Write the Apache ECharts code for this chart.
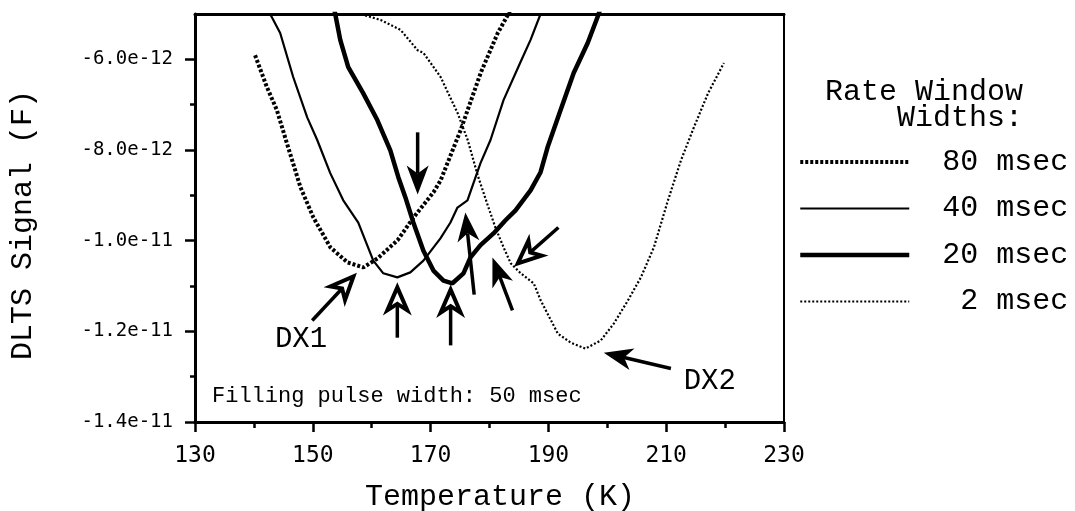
<!DOCTYPE html>
<html>
<head>
<meta charset="utf-8">
<script src="https://cdn.jsdelivr.net/npm/echarts@6/dist/echarts.min.js"></script>
<style>
  html, body { margin: 0; padding: 0; background: #fff; }
  #chart { width: 1075px; height: 511px; }
</style>
</head>
<body>
<div id="chart"></div>
<script>
// DLTS spectra for four rate windows; signal values in units of 1e-12 F.
const t80 = [140.2, 142.2, 143.9, 145.6, 147.9, 150.1, 153.0, 155.9, 158.6, 161.0, 164.4, 167.1, 170.5, 171.7, 175.1, 178.5, 181.4, 183.2, 183.6];
const s80 = [-5.91, -6.61, -7.12, -7.85, -8.82, -9.49, -10.15, -10.48, -10.59, -10.39, -9.99, -9.49, -8.93, -8.67, -7.56, -6.30, -5.42, -5.00, -4.90];

const t40 = [142.4, 142.76, 144.46, 146.67, 149.05, 150.75, 152.96, 155.17, 157.72, 160.27, 161.97, 164.35, 166.56, 168.78, 171.67, 173.37, 174.56, 176.26, 177.28, 178.47, 180.17, 182.38, 185.27, 186.97, 188.67, 189.2];
const s40 = [-4.80, -5.00, -5.42, -6.39, -7.28, -7.78, -8.51, -9.11, -9.60, -10.44, -10.72, -10.81, -10.70, -10.44, -9.95, -9.60, -9.27, -9.11, -8.73, -8.29, -7.78, -6.90, -6.06, -5.57, -5.00, -4.80];

const t20 = [153.5, 153.81, 154.66, 156.02, 158.57, 160.95, 163.16, 164.52, 165.71, 167.07, 168.78, 170.48, 172.18, 173.71, 175.58, 176.77, 178.47, 180.68, 182.72, 184.42, 186.97, 188.67, 189.86, 192.07, 194.29, 196.67, 198.54, 199.0];
const s20 = [-4.80, -5.00, -5.57, -6.17, -6.75, -7.34, -8.01, -8.60, -9.04, -9.60, -10.22, -10.66, -10.88, -10.94, -10.72, -10.37, -10.10, -9.84, -9.55, -9.33, -8.89, -8.49, -7.94, -7.12, -6.30, -5.64, -5.00, -4.80];

const t2 = [156.4, 158.6, 161.5, 164.9, 167.8, 168.8, 171.7, 174.6, 176.3, 178.0, 179.7, 181.0, 182.4, 183.6, 185.3, 187.5, 188.7, 191.6, 193.8, 196.3, 198.9, 201.1, 203.5, 205.7, 207.9, 210.3, 212.5, 214.7, 217.1, 219.8];
const s2 = [-4.89, -5.02, -5.13, -5.35, -5.80, -5.86, -6.39, -7.19, -7.78, -8.56, -9.22, -9.71, -10.15, -10.50, -10.72, -10.94, -11.32, -12.05, -12.25, -12.38, -12.20, -11.83, -11.32, -10.81, -10.15, -9.11, -8.23, -7.50, -6.75, -6.08];

const seriesNames = ['80 msec', '40 msec', '20 msec', '2 msec'];

// Axis ticks
const xTicks = [130, 150, 170, 190, 210, 230];
const yTicks = [-14, -12, -10, -8, -6];
const yMinorTicks = [-13, -11, -9, -7];

// Annotation arrows: tail (T, signal) -> tip (T, signal); 1 = open head
const arrowFromT = [149.9, 164.35, 173.4, 177.4, 183.9, 191.7, 167.8, 210.8];
const arrowFromS = [-11.76, -12.14, -12.31, -11.19, -11.54, -9.71, -7.61, -12.82];
const arrowToT   = [156.9, 164.35, 173.4, 175.9, 180.5, 184.8, 167.8, 199.4];
const arrowToS   = [-10.79, -11.03, -11.08, -9.38, -10.37, -10.50, -8.98, -12.47];
const arrowOpen  = [1, 1, 1, 0, 0, 1, 0, 0];

// Peak labels
const peakNames = ['DX1', 'DX2'];
const peakT = [148.0, 217.4];
const peakS = [-12.18, -13.11];

const zip = (a, b) => a.map((v, i) => [v, b[i]]);

const chart = echarts.init(document.getElementById('chart'), null, { renderer: 'canvas' });

const mono = 'Liberation Mono';
const sansMono = 'DejaVu Sans Mono';

// Line styles per rate window
const styles = [
  { color: '#000', width: 4, type: [3, 2] },
  { color: '#000', width: 2.2, type: 'solid' },
  { color: '#000', width: 4.5, type: 'solid' },
  { color: '#000', width: 2.2, type: [2, 2] }
];

function renderArrow(params, api) {
  const a = api.coord([api.value(0), api.value(1)]);
  const b = api.coord([api.value(2), api.value(3)]);
  const open = api.value(4) === 1;
  const dx = b[0] - a[0], dy = b[1] - a[1];
  const len = Math.hypot(dx, dy);
  const ux = dx / len, uy = dy / len;
  const nx = -uy, ny = ux;
  const L = open ? 23 : 29;
  const W = open ? 10 : 11;
  const back = [b[0] - ux * L, b[1] - uy * L];
  const notch = [b[0] - ux * L * 0.72, b[1] - uy * L * 0.72];
  const pts = [
    [b[0], b[1]],
    [back[0] + nx * W, back[1] + ny * W],
    notch,
    [back[0] - nx * W, back[1] - ny * W]
  ];
  return {
    type: 'group',
    children: [
      { type: 'line', shape: { x1: a[0], y1: a[1], x2: notch[0], y2: notch[1] },
        style: { stroke: '#000', lineWidth: 3.5 } },
      { type: 'polygon', shape: { points: pts },
        style: open ? { fill: '#fff', stroke: '#000', lineWidth: 4, lineJoin: 'miter' } : { fill: '#000' } }
    ]
  };
}

function renderPeakLabel(params, api) {
  const p = api.coord([api.value(0), api.value(1)]);
  return {
    type: 'text',
    x: p[0], y: p[1],
    style: {
      text: peakNames[params.dataIndex],
      fontFamily: mono, fontSize: 29, fill: '#000',
      align: 'center', verticalAlign: 'middle'
    }
  };
}

const lineBase = { type: 'line', symbol: 'none', showSymbol: false, clip: true, z: 3 };

const option = {
  animation: false,
  backgroundColor: '#fff',
  grid: { left: 195, right: 291, top: 14, bottom: 89, containLabel: false },
  xAxis: [
    {
      type: 'value', min: 130, max: 230, interval: 20, position: 'bottom',
      axisLine: { show: true, onZero: false, lineStyle: { color: '#000', width: 3 } },
      axisTick: { show: true, inside: false, length: 10, lineStyle: { color: '#000', width: 2.5 } },
      minorTick: { show: true, splitNumber: 2, length: 6, lineStyle: { color: '#000', width: 2.5 } },
      splitLine: { show: false }, minorSplitLine: { show: false },
      axisLabel: { margin: 23, color: '#000', fontFamily: sansMono, fontSize: 23,
        formatter: v => xTicks.includes(v) ? String(v) : '' }
    },
    {
      type: 'value', min: 130, max: 230, position: 'top',
      axisLine: { show: true, onZero: false, lineStyle: { color: '#000', width: 3 } },
      axisTick: { show: false }, axisLabel: { show: false }, splitLine: { show: false }
    }
  ],
  yAxis: [
    {
      type: 'value', min: -14, max: -5, position: 'left',
      axisLine: { show: true, onZero: false, lineStyle: { color: '#000', width: 3 } },
      axisTick: { show: true, inside: false, length: 10, customValues: yTicks,
        lineStyle: { color: '#000', width: 2.5 } },
      axisLabel: { margin: 22, color: '#000', fontFamily: sansMono, fontSize: 19, customValues: yTicks,
        formatter: v => (v * 1e-12).toExponential(1) },
      splitLine: { show: false }
    },
    {
      type: 'value', min: -14, max: -5, position: 'left',
      axisLine: { show: false },
      axisTick: { show: true, inside: false, length: 5, customValues: yMinorTicks,
        lineStyle: { color: '#000', width: 2.5 } },
      axisLabel: { show: false }, splitLine: { show: false }
    },
    {
      type: 'value', min: -14, max: -5, position: 'right',
      axisLine: { show: true, onZero: false, lineStyle: { color: '#000', width: 2 } },
      axisTick: { show: false }, axisLabel: { show: false }, splitLine: { show: false }
    }
  ],
  legend: {
    data: seriesNames.map((n, i) => ({
      name: n,
      lineStyle: { width: styles[i].width, type: styles[i].type, color: '#000' },
      itemStyle: { opacity: 0 }
    })),
    orient: 'vertical',
    left: 793, top: 135,
    itemWidth: 109, itemHeight: 14, itemGap: 2.5,
    selectedMode: false,
    formatter: n => n.padStart(7, ' '),
    itemStyle: { opacity: 0 },
    textStyle: { fontFamily: mono, fontSize: 30, color: '#000', lineHeight: 30, padding: [14, 0, 0, 28] }
  },
  graphic: [
    { type: 'text', x: 23, y: 225, rotation: Math.PI / 2,
      style: { text: 'DLTS Signal (F)', fontFamily: mono, fontSize: 30, fill: '#000',
        align: 'center', verticalAlign: 'middle' } },
    { type: 'text', x: 500, y: 497,
      style: { text: 'Temperature (K)', fontFamily: mono, fontSize: 30, fill: '#000',
        align: 'center', verticalAlign: 'middle' } },
    { type: 'text', x: 825, y: 105,
      style: { text: 'Rate Window\n    Widths:', fontFamily: mono, fontSize: 30, lineHeight: 26, fill: '#000',
        align: 'left', verticalAlign: 'middle' } },
    { type: 'text', x: 212, y: 396,
      style: { text: 'Filling pulse width: 50 msec', fontFamily: mono, fontSize: 22, fill: '#000',
        align: 'left', verticalAlign: 'middle' } }
  ],
  series: [
    Object.assign({}, lineBase, { name: seriesNames[0], data: zip(t80, s80), itemStyle: { color: '#000' }, lineStyle: styles[0] }),
    Object.assign({}, lineBase, { name: seriesNames[1], data: zip(t40, s40), itemStyle: { color: '#000' }, lineStyle: styles[1] }),
    Object.assign({}, lineBase, { name: seriesNames[2], data: zip(t20, s20), itemStyle: { color: '#000' }, lineStyle: styles[2] }),
    Object.assign({}, lineBase, { name: seriesNames[3], data: zip(t2, s2), itemStyle: { color: '#000' }, lineStyle: styles[3] }),
    {
      type: 'custom', name: 'arrows', z: 5,
      renderItem: renderArrow,
      encode: { x: [0, 2], y: [1, 3] },
      data: arrowFromT.map((t, i) => [t, arrowFromS[i], arrowToT[i], arrowToS[i], arrowOpen[i]])
    },
    {
      type: 'custom', name: 'peaks', z: 5,
      renderItem: renderPeakLabel,
      encode: { x: 0, y: 1 },
      data: zip(peakT, peakS)
    }
  ]
};

chart.setOption(option);
</script>
</body>
</html>
